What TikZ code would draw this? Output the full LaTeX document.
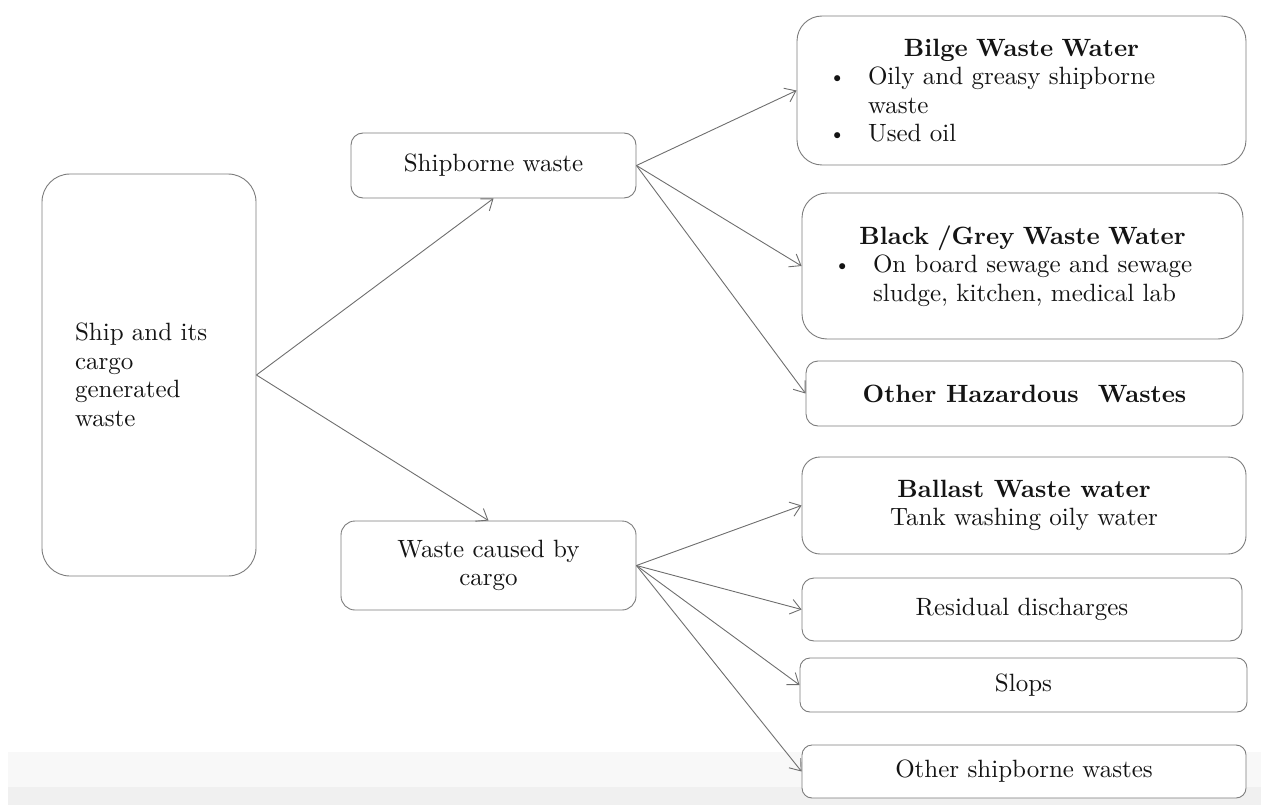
\documentclass[tikz,border=0pt]{standalone}
\usepackage{fontspec}
\setmainfont{lmroman10-regular.otf}[BoldFont=lmroman10-bold.otf]
\usetikzlibrary{arrows.meta}
\definecolor{edgegray}{HTML}{6E6E6E}
\definecolor{boxgray}{HTML}{7C7C7C}
\definecolor{inktext}{HTML}{141414}
\definecolor{bandlight}{HTML}{F8F8F8}
\definecolor{banddark}{HTML}{F0F0F0}
% one bullet line and its hanging continuation inside a category box
\newcommand\smallbullet{\raisebox{1pt}{\fontsize{21}{21}\selectfont\textbullet}}
\newcommand\bulletline[1]{\par\noindent\hspace*{32pt}\makebox[39pt][l]{\smallbullet}#1}
\newcommand\hangline[1]{\par\noindent\hspace*{71pt}#1}
\newcommand\boxtitle[1]{{\centering\bfseries #1\par}}
\begin{document}
\begin{tikzpicture}[x=1pt,y=-1pt,
  every node/.style={font=\fontsize{25}{28.5}\selectfont, text=inktext},
  wbox/.style={draw=boxgray, line width=0.9pt, fill=white, inner sep=0pt},
  arr/.style={draw=edgegray, line width=0.9pt, -{Straight Barb[length=10pt,width=15pt,line width=0.9pt]}}]
\useasboundingbox (0,0) rectangle (1261,805);
% pale strip along the foot of the picture
\fill[bandlight] (8,752) rectangle (1261,787);
\fill[banddark] (8,787) rectangle (1261,805);

% source
\node[wbox, rounded corners=28pt, minimum height=402pt, text width=148pt,
      inner xsep=33pt, align=left] (ship) at (149,375)
  {Ship and its\\cargo\\generated\\waste};

% two main groups
\node[wbox, rounded corners=12pt, minimum width=285pt, minimum height=65pt] (shipb) at (493.5,165.5) {Shipborne waste};
\node[wbox, rounded corners=14pt, minimum width=295pt, minimum height=89pt, align=center] (cargo) at (488.5,565.5) {Waste caused by\\cargo};

% shipborne categories
\node[wbox, rounded corners=25pt, text width=449pt, minimum height=149pt, align=left] (bilge) at (1021.5,90.5)
  {\boxtitle{Bilge Waste Water}\bulletline{Oily and greasy shipborne}\hangline{waste}\bulletline{Used oil}};
\node[wbox, rounded corners=25pt, text width=441pt, minimum height=146pt, align=left] (black) at (1022.5,266)
  {\boxtitle{Black /Grey Waste Water}\bulletline{On board sewage and sewage}\hangline{sludge, kitchen, medical lab}};
\node[wbox, rounded corners=12pt, minimum width=437pt, minimum height=65pt, font=\fontsize{25}{28.5}\selectfont\bfseries] (hazard) at (1024.5,393.5) {Other Hazardous\ \ Wastes};

% cargo categories
\node[wbox, rounded corners=18pt, minimum width=444pt, minimum height=97pt, align=center] (ballast) at (1024,505.5)
  {\textbf{Ballast Waste water}\\Tank washing oily water};
\node[wbox, rounded corners=12pt, minimum width=440pt, minimum height=63pt] (resid) at (1022,609.5) {Residual discharges};
\node[wbox, rounded corners=10pt, minimum width=447pt, minimum height=54pt] (slops) at (1023.5,685) {Slops};
\node[wbox, rounded corners=10pt, minimum width=444pt, minimum height=53pt] (othership) at (1024,771.5) {Other shipborne wastes};

% connectors
\draw[arr] (ship.east) -- (shipb.south);
\draw[arr] (ship.east) -- (cargo.north);
\draw[arr] (shipb.east) -- (bilge.west);
\draw[arr] (shipb.east) -- (black.west);
\draw[arr] (shipb.east) -- (hazard.west);
\draw[arr] (cargo.east) -- (ballast.west);
\draw[arr] (cargo.east) -- (resid.west);
\draw[arr] (cargo.east) -- (slops.west);
\draw[arr] (cargo.east) -- (othership.west);
\end{tikzpicture}
\end{document}
